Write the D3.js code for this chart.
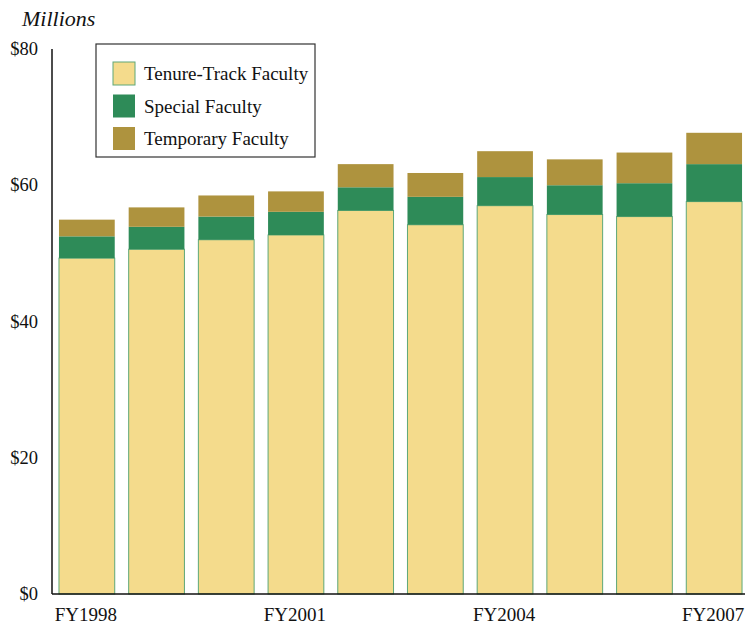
<!DOCTYPE html>
<html>
<head>
<meta charset="utf-8">
<script src="https://cdn.jsdelivr.net/npm/d3@7"></script>
<style>
  body { margin: 0; background: #fff; }
  text { font-family: "Liberation Serif", "DejaVu Serif", serif; fill: #111; }
</style>
</head>
<body>
<svg id="chart" width="745" height="624"></svg>
<script>
// data (millions of dollars)
var years = ["FY1998","FY1999","FY2000","FY2001","FY2002","FY2003","FY2004","FY2005","FY2006","FY2007"];
var tenureTrack = [49.3, 50.6, 52.0, 52.7, 56.3, 54.2, 57.0, 55.7, 55.4, 57.6];
var special     = [3.2, 3.3, 3.4, 3.4, 3.4, 4.1, 4.2, 4.3, 4.9, 5.5];
var temporary   = [2.45, 2.85, 3.1, 3.0, 3.4, 3.5, 3.8, 3.8, 4.5, 4.6];
var yTicks = [0, 20, 40, 60, 80];
var xLabels = ["FY1998","FY2001","FY2004","FY2007"];
var seriesNames = ["Tenure-Track Faculty","Special Faculty","Temporary Faculty"];
var colors = ["#f4db8c","#2e8b58","#ae933e"];

var svg = d3.select("#chart");

var x = d3.scaleBand().domain(years).range([52, 749]).paddingInner(0.2).paddingOuter(0.1);
var y = d3.scaleLinear().domain([0, 80]).range([594, 49]);

// build stack rows
var rows = years.map(function(yr, i){
  return {year: yr, t: tenureTrack[i], s: special[i], p: temporary[i]};
});
var stack = d3.stack().keys(["t","s","p"]);
var layers = stack(rows);

var bars = svg.append("g").attr("class","bars");
bars.selectAll("g").data(layers).enter().append("g")
  .attr("fill", function(d, i){ return colors[i]; })
  .selectAll("rect").data(function(d){ return d; }).enter().append("rect")
  .attr("x", function(d){ return x(d.data.year); })
  .attr("width", x.bandwidth())
  .attr("y", function(d){ return y(d[1]); })
  .attr("height", function(d){ return y(d[0]) - y(d[1]); });

// green outline on tenure segments
bars.select("g").selectAll("rect")
  .attr("stroke", "#5fa878").attr("stroke-width", 1);

// axes lines (no tick marks)
svg.append("line").attr("x1", 52).attr("x2", 52).attr("y1", y(80)).attr("y2", y(0))
  .attr("stroke", "#111").attr("stroke-width", 1.5);
svg.append("line").attr("x1", 52).attr("x2", 745).attr("y1", y(0)).attr("y2", y(0))
  .attr("stroke", "#111").attr("stroke-width", 1.5);

svg.append("g").selectAll("text").data(yTicks).enter().append("text")
  .attr("x", 38).attr("y", function(d){ return y(d) + 6; })
  .attr("text-anchor", "end").attr("font-size", 18.5)
  .text(function(d){ return "$" + d; });

svg.append("g").selectAll("text").data(xLabels).enter().append("text")
  .attr("x", function(d){ return x(d) + x.bandwidth()/2 - 1; })
  .attr("y", 621).attr("text-anchor", "middle").attr("font-size", 19)
  .text(function(d){ return d; });

svg.append("text").attr("x", 22).attr("y", 26)
  .attr("font-size", 22).attr("font-style", "italic").text("Millions");

// legend
var legend = svg.append("g").attr("transform", "translate(96,44)");
legend.append("rect").attr("width", 219).attr("height", 113)
  .attr("fill", "#fff").attr("stroke", "#333").attr("stroke-width", 1.2);
var items = legend.selectAll("g.item").data(seriesNames).enter().append("g")
  .attr("class","item")
  .attr("transform", function(d, i){ return "translate(17," + (18 + i*32.5) + ")"; });
items.append("rect").attr("width", 22).attr("height", 23)
  .attr("fill", function(d, i){ return colors[i]; })
  .attr("stroke", function(d, i){ return i === 0 ? "#5fa878" : "none"; });
items.append("text").attr("x", 31).attr("y", 18).attr("font-size", 19)
  .text(function(d){ return d; });
</script>
</body>
</html>
